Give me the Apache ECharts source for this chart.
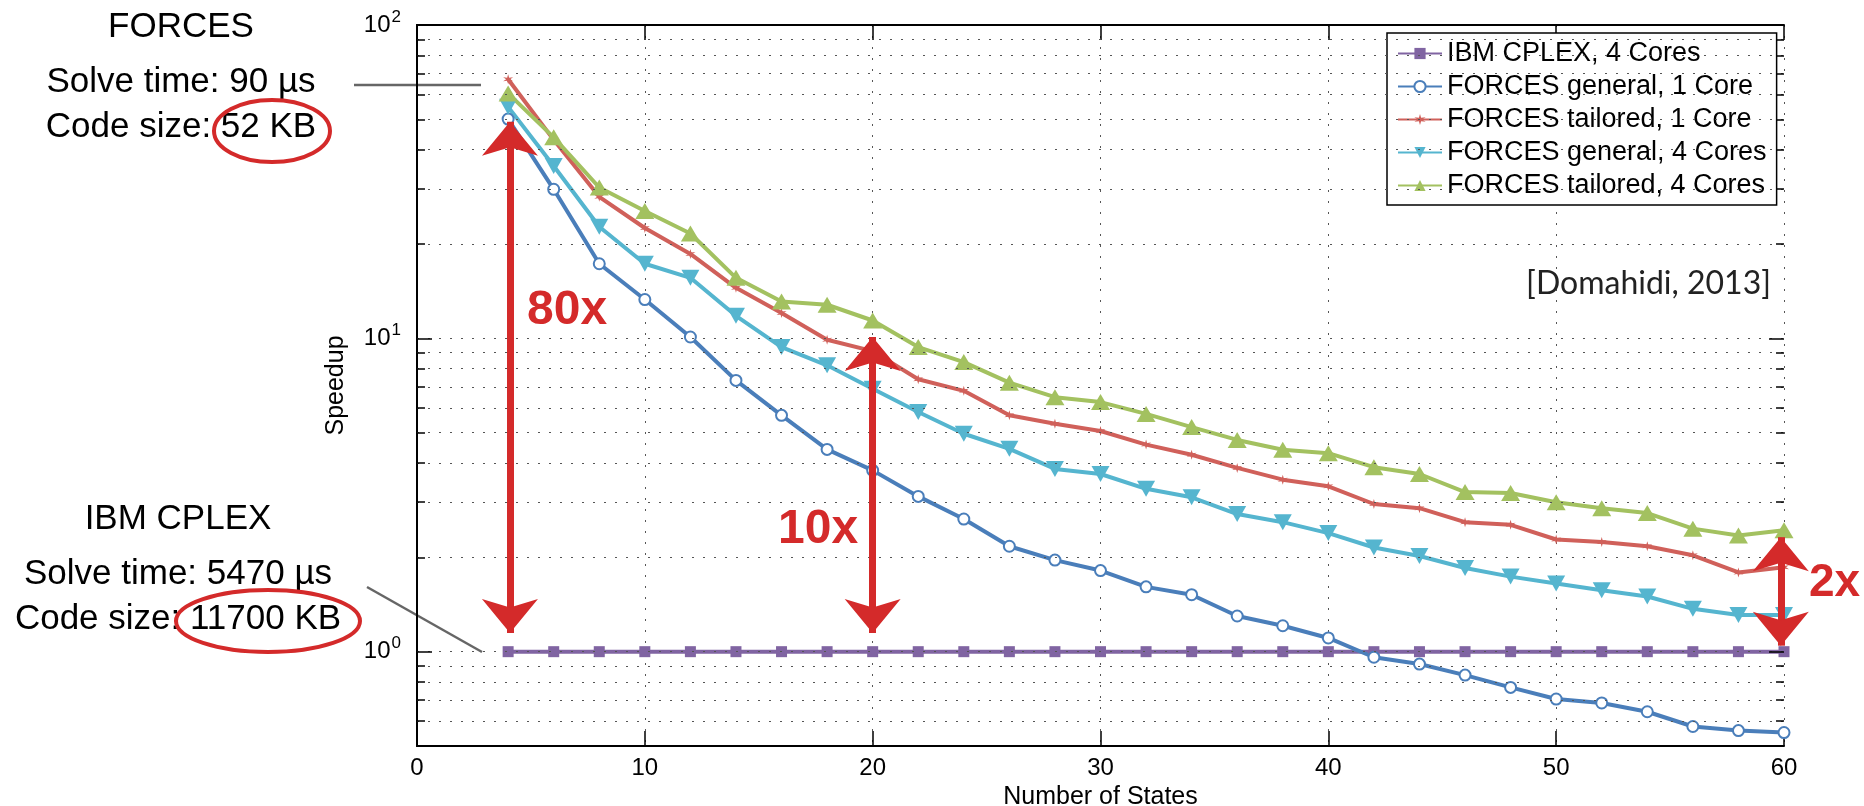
<!DOCTYPE html>
<html>
<head>
<meta charset="utf-8">
<title>Speedup vs Number of States</title>
<script src="https://cdn.jsdelivr.net/npm/echarts@6/dist/echarts.min.js"></script>
<style>
  html, body { margin: 0; padding: 0; background: #fff; }
  #chart { width: 1864px; height: 806px; }
</style>
</head>
<body>
<div id="chart"></div>
<script>
// number of states (x) and speedup per solver (y, log scale)
var states = [4, 6, 8, 10, 12, 14, 16, 18, 20, 22, 24, 26, 28, 30, 32, 34, 36, 38, 40, 42, 44, 46, 48, 50, 52, 54, 56, 58, 60];
var ibmCplex4 = [1, 1, 1, 1, 1, 1, 1, 1, 1, 1, 1, 1, 1, 1, 1, 1, 1, 1, 1, 1, 1, 1, 1, 1, 1, 1, 1, 1, 1];
var forcesGeneral1 = [50.1, 29.9, 17.3, 13.3, 10.1, 7.34, 5.68, 4.42, 3.79, 3.13, 2.65, 2.17, 1.96, 1.815, 1.61, 1.52, 1.30, 1.21, 1.106, 0.96, 0.913, 0.842, 0.769, 0.706, 0.686, 0.643, 0.577, 0.56, 0.552];
var forcesTailored1 = [67.1, 43, 28.3, 22.5, 18.6, 14.5, 12.05, 9.9, 9.1, 7.4, 6.8, 5.68, 5.34, 5.06, 4.58, 4.25, 3.86, 3.54, 3.37, 2.96, 2.87, 2.59, 2.54, 2.28, 2.24, 2.17, 2.03, 1.79, 1.86];
var forcesGeneral4 = [54.8, 35.5, 22.7, 17.3, 15.6, 11.8, 9.38, 8.2, 6.9, 5.82, 4.96, 4.44, 3.83, 3.69, 3.31, 3.11, 2.75, 2.59, 2.39, 2.15, 2.02, 1.85, 1.736, 1.65, 1.57, 1.50, 1.37, 1.31, 1.31];
var forcesTailored4 = [60.5, 43.8, 30.3, 25.5, 21.6, 15.6, 13.1, 12.8, 11.4, 9.38, 8.4, 7.22, 6.49, 6.26, 5.74, 5.21, 4.74, 4.41, 4.30, 3.88, 3.69, 3.23, 3.21, 3.0, 2.87, 2.77, 2.47, 2.35, 2.44];

var names = ['IBM CPLEX, 4 Cores', 'FORCES general, 1 Core', 'FORCES tailored, 1 Core', 'FORCES general, 4 Cores', 'FORCES tailored, 4 Cores'];

// log axis grid values
var yMajor = [1, 10];
var yMinor = [0.6, 0.7, 0.8, 0.9, 2, 3, 4, 5, 6, 7, 8, 9, 20, 30, 40, 50, 60, 70, 80, 90];

// speedup arrows: x, tip at the low end, tip at the high end
var arrowX = [4.08, 20, 59.86];
var arrowLow = [1.147, 1.147, 1.045];
var arrowHigh = [49.1, 10.1, 2.32];

var FONT = '"Liberation Sans", Arial, sans-serif';
var RED = '#D42A2A';

function pairs(ys) {
    var out = [];
    for (var i = 0; i < states.length; i++) {
        out.push([states[i], ys[i]]);
    }
    return out;
}

function tickLines(values, x0, x1) {
    var out = [];
    for (var i = 0; i < values.length; i++) {
        out.push([{ coord: [x0, values[i]] }, { coord: [x1, values[i]] }]);
    }
    return out;
}

var gridLines = [];
yMajor.concat(yMinor).forEach(function (v) {
    gridLines.push({ yAxis: v });
});

var ticks = []
    .concat(tickLines(yMajor, 0, 0.66))
    .concat(tickLines(yMinor, 0, 0.35))
    .concat(tickLines(yMajor, 60, 59.34))
    .concat(tickLines(yMinor, 60, 59.65));

var arrows = [];
for (var i = 0; i < arrowX.length; i++) {
    arrows.push([{ coord: [arrowX[i], arrowLow[i]] }, { coord: [arrowX[i], arrowHigh[i]] }]);
}

var yLabel = {
    fontFamily: FONT,
    fontSize: 24,
    color: '#000',
    margin: 16,
    formatter: function (v) {
        var l = Math.log10(v);
        var e = Math.round(l);
        if (Math.abs(l - e) > 1e-6) return '';
        return '10{s|' + e + '}';
    },
    rich: {
        s: { fontFamily: FONT, fontSize: 17, color: '#000', padding: [0, 0, 16, 1] }
    }
};

var asterisk = 'path://M5,0 L6,3.5 L10,3 L7,5 L10,7 L6,6.5 L5,10 L4,6.5 L0,7 L3,5 L0,3 L4,3.5 Z';

function note(text, x, y) {
    return {
        type: 'text', x: x, y: y,
        style: { text: text, font: '35px ' + FONT, fill: '#000', textAlign: 'center', textVerticalAlign: 'middle', align: 'center', verticalAlign: 'middle' }
    };
}

function redLabel(text, x, y, size) {
    return {
        type: 'text', x: x, y: y, z: 20,
        style: { text: text, font: 'bold ' + size + 'px ' + FONT, fill: RED, textAlign: 'left', textVerticalAlign: 'middle', align: 'left', verticalAlign: 'middle' }
    };
}

var chart = echarts.init(document.getElementById('chart'));
var option = {
    backgroundColor: '#fff',
    animation: false,
    grid: {
        left: 417,
        right: 80,
        top: 25,
        bottom: 60,
        outerBoundsMode: 'none'
    },
    legend: {
        data: names,
        orient: 'vertical',
        left: 1387,
        top: 33,
        padding: [7, 10, 6, 10],
        itemGap: 6,
        itemWidth: 44,
        itemHeight: 14,
        backgroundColor: '#fff',
        borderColor: '#000',
        borderWidth: 1.5,
        borderRadius: 0,
        textStyle: { fontFamily: FONT, fontSize: 27, lineHeight: 27, color: '#000' }
    },
    xAxis: [{
        type: 'value',
        min: 0,
        max: 60,
        interval: 10,
        name: 'Number of States',
        nameLocation: 'middle',
        nameGap: 28,
        nameTextStyle: { fontFamily: FONT, fontSize: 25, color: '#000' },
        axisLine: { show: true, lineStyle: { color: '#000', width: 2 } },
        axisTick: { show: true, inside: true, length: 15, lineStyle: { color: '#000', width: 1.5 } },
        axisLabel: { fontFamily: FONT, fontSize: 24, color: '#000', margin: 10 },
        splitLine: { show: true, lineStyle: { color: '#555', width: 1, type: [2, 9] } }
    }, {
        type: 'value',
        position: 'top',
        min: 0,
        max: 60,
        interval: 10,
        axisLine: { show: true, lineStyle: { color: '#000', width: 2 } },
        axisTick: { show: true, inside: true, length: 15, lineStyle: { color: '#000', width: 1.5 } },
        axisLabel: { show: false },
        splitLine: { show: false }
    }],
    yAxis: [{
        type: 'log',
        logBase: 10,
        min: 0.5,
        max: 100,
        name: 'Speedup',
        nameLocation: 'middle',
        nameGap: 68,
        nameTextStyle: { fontFamily: FONT, fontSize: 25, color: '#000' },
        axisLine: { show: true, lineStyle: { color: '#000', width: 2 } },
        axisTick: { show: false },
        axisLabel: yLabel,
        splitLine: { show: false }
    }, {
        type: 'log',
        logBase: 10,
        min: 0.5,
        max: 100,
        position: 'right',
        axisLine: { show: true, lineStyle: { color: '#000', width: 2 } },
        axisTick: { show: false },
        axisLabel: { show: false },
        splitLine: { show: false }
    }],
    series: [{
        name: 'grid',
        type: 'line',
        data: [[0, 1]],
        showSymbol: false,
        lineStyle: { opacity: 0 },
        silent: true,
        z: 1,
        markLine: {
            silent: true,
            animation: false,
            symbol: ['none', 'none'],
            label: { show: false },
            emphasis: { disabled: true },
            lineStyle: { color: '#555', width: 1, type: [2, 9] },
            data: gridLines
        }
    }, {
        name: 'ticks',
        type: 'line',
        data: [[0, 1]],
        showSymbol: false,
        lineStyle: { opacity: 0 },
        silent: true,
        z: 3,
        markLine: {
            silent: true,
            animation: false,
            symbol: ['none', 'none'],
            label: { show: false },
            emphasis: { disabled: true },
            lineStyle: { color: '#000', width: 1.5, type: 'solid' },
            data: ticks
        }
    }, {
        name: names[0],
        type: 'line',
        data: pairs(ibmCplex4),
        color: '#8064A2',
        symbol: 'rect',
        symbolSize: 11,
        lineStyle: { width: 4 },
        z: 4
    }, {
        name: names[1],
        type: 'line',
        data: pairs(forcesGeneral1),
        color: '#4A7EBA',
        symbol: 'emptyCircle',
        symbolSize: 11,
        itemStyle: { borderWidth: 3 },
        lineStyle: { width: 4 },
        z: 4
    }, {
        name: names[2],
        type: 'line',
        data: pairs(forcesTailored1),
        color: '#D0605A',
        symbol: asterisk,
        symbolSize: 10,
        lineStyle: { width: 4 },
        z: 4
    }, {
        name: names[3],
        type: 'line',
        data: pairs(forcesGeneral4),
        color: '#55B5CF',
        symbol: 'triangle',
        symbolRotate: 180,
        symbolSize: [18, 16],
        lineStyle: { width: 4 },
        z: 4
    }, {
        name: names[4],
        type: 'line',
        data: pairs(forcesTailored4),
        color: '#A3C160',
        symbol: 'triangle',
        symbolSize: [19, 16],
        lineStyle: { width: 4 },
        z: 4
    }, {
        name: 'arrows',
        type: 'line',
        data: [[0, 1]],
        showSymbol: false,
        lineStyle: { opacity: 0 },
        silent: true,
        z: 10,
        markLine: {
            silent: true,
            animation: false,
            symbol: ['arrow', 'arrow'],
            symbolSize: [42, 34],
            label: { show: false },
            emphasis: { disabled: true },
            lineStyle: { color: RED, width: 7, type: 'solid', opacity: 1 },
            itemStyle: { color: RED },
            data: arrows
        }
    }],
    graphic: [
        // FORCES note
        note('FORCES', 181, 27.5),
        note('Solve time: 90 µs', 181, 82.5),
        note('Code size: 52 KB', 181, 127.5),
        { type: 'ellipse', shape: { cx: 272, cy: 131, rx: 58, ry: 31 }, style: { fill: 'none', stroke: RED, lineWidth: 4 } },
        { type: 'line', shape: { x1: 354, y1: 85, x2: 481, y2: 85 }, style: { stroke: '#666', lineWidth: 2.5 } },
        // IBM CPLEX note
        note('IBM CPLEX', 178, 519.5),
        note('Solve time: 5470 µs', 178, 574.5),
        note('Code size: 11700 KB', 178, 619.5),
        { type: 'ellipse', shape: { cx: 268, cy: 621, rx: 92, ry: 31 }, style: { fill: 'none', stroke: RED, lineWidth: 4 } },
        { type: 'line', shape: { x1: 367, y1: 587, x2: 482, y2: 652 }, style: { stroke: '#666', lineWidth: 2.5 } },
        // arrow labels
        redLabel('80x', 527, 310.5, 48),
        redLabel('10x', 778, 530, 48),
        redLabel('2x', 1809, 583, 46),
        // citation
        { type: 'text', x: 1771, y: 284, z: 20, style: { text: '[Domahidi, 2013]', font: '32px Lato, ' + FONT, fill: '#222', textAlign: 'right', textVerticalAlign: 'middle', align: 'right', verticalAlign: 'middle' } }
    ]
};
chart.setOption(option);
</script>
</body>
</html>
